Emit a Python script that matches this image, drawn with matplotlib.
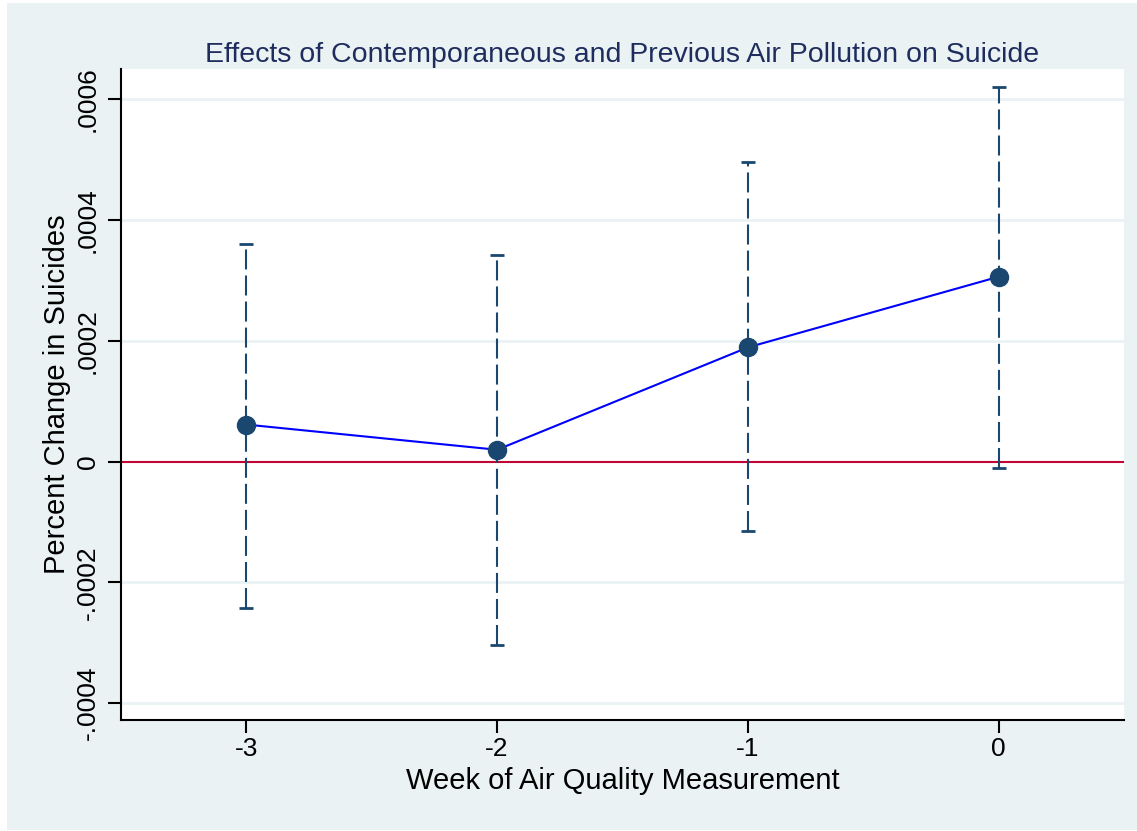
import matplotlib.pyplot as plt
from matplotlib.patches import Rectangle

plt.rcParams['font.family'] = ['Liberation Sans', 'DejaVu Sans']

# ── data ────────────────────────────────────────────────────
weeks = [-3, -2, -1, 0]
coef = [0.0000612, 0.0000195, 0.000189, 0.000306]
ci_low = [-0.000242, -0.000304, -0.0001155, -0.0000105]
ci_high = [0.000361, 0.000342, 0.000496, 0.000621]

xticks = [-3, -2, -1, 0]
xtick_labels = ["-3", "-2", "-1", "0"]
yticks = [-0.0004, -0.0002, 0, 0.0002, 0.0004, 0.0006]
ytick_labels = ["-.0004", "-.0002", "0", ".0002", ".0004", ".0006"]

panel = "#EAF2F3"
navy = "#1A476F"

fig = plt.figure(figsize=(11.37, 8.31), dpi=100, facecolor="white")
# stata-style outer panel
fig.patches.append(Rectangle((7 / 1137, 1 / 831), 1, (830 - 3) / 831,
                             transform=fig.transFigure, facecolor=panel,
                             edgecolor="none", zorder=-10))

ax = fig.add_axes([121 / 1137, 1 - 720 / 831, (1124 - 121) / 1137, (720 - 69) / 831])
ax.set_facecolor("white")

for yv in yticks:
    if yv != 0:
        ax.axhline(yv, color=panel, lw=2, zorder=0)
ax.axhline(0, color="#C10534", lw=1.5, zorder=1)

eb = ax.errorbar(weeks, coef,
                 yerr=[[c - lo for c, lo in zip(coef, ci_low)],
                       [hi - c for c, hi in zip(coef, ci_high)]],
                 fmt="none", ecolor=navy, elinewidth=1.5, capsize=4.7,
                 capthick=2, zorder=2)
eb[2][0].set_linestyle((0, (9.6, 2.9)))

ax.plot(weeks, coef, color="#0000FF", lw=1.5, zorder=3)
ax.plot(weeks, coef, "o", color=navy, markersize=13, zorder=4)

ax.set_xlim(-3.5, 0.5)
ax.set_ylim(-0.000428, 0.00065)
ax.set_xticks(xticks)
ax.set_xticklabels(xtick_labels)
ax.set_yticks(yticks)
ax.set_yticklabels(ytick_labels, rotation=90, va="center")

for s in ["top", "right"]:
    ax.spines[s].set_visible(False)
for s in ["left", "bottom"]:
    ax.spines[s].set_linewidth(1.5)
    ax.spines[s].set_color("black")

ax.tick_params(axis="both", direction="out", length=9.4, width=1.5,
               labelsize=19, colors="black")
ax.tick_params(axis="x", pad=3)
ax.tick_params(axis="y", pad=6)

ax.set_title("Effects of Contemporaneous and Previous Air Pollution on Suicide",
             fontsize=20.5, color="#1E2D5E", pad=5)
ax.set_xlabel("Week of Air Quality Measurement", fontsize=21, labelpad=4)
ax.set_ylabel("Percent Change in Suicides", fontsize=21, labelpad=3)

fig.savefig("out.png", dpi=100, facecolor=fig.get_facecolor())
